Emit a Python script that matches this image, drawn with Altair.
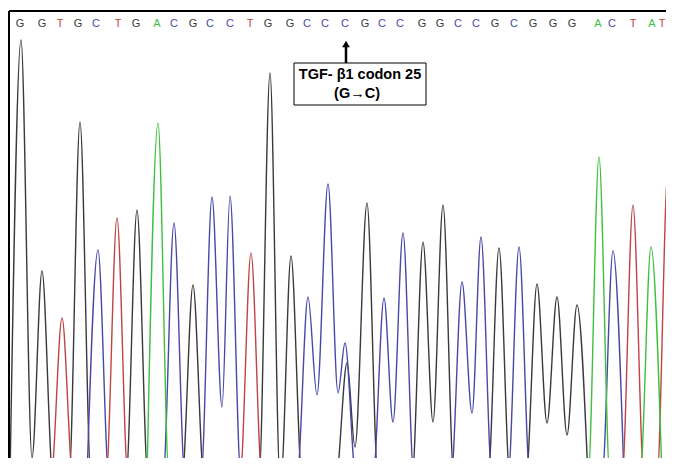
import altair as alt
import pandas as pd

# ---- base calls printed along the top (scan position of each call) ----
bases = list("GGTGCTGACGCCTGGCCCGCCGGCCGCGGGACTAT")
base_pos = [20, 42, 60, 78, 96, 118, 136, 157, 174, 193, 210, 230, 250, 268, 290,
            307, 325, 345, 365, 382, 400, 422, 440, 458, 476, 495, 514, 533, 553,
            572, 598, 612, 633, 652, 670]

# ---- peak apexes per dye: scan position and signal height ----
g_x = [21, 42, 80, 137, 193, 270, 291, 347, 367, 423, 443, 499, 537, 557, 577]
g_h = [426, 195, 344, 256, 181, 393, 210, 103, 263, 224, 261, 218, 182, 169, 161]
c_x = [98, 174, 212, 230, 308, 328, 345, 384, 403, 462, 481, 519, 613]
c_h = [216, 243, 269, 270, 169, 282, 123, 168, 233, 184, 229, 219, 215]
t_x = [0, 62, 117, 251, 633, 668]
t_h = [150, 148, 248, 213, 261, 296]
a_x = [158, 599, 651]
a_h = [343, 309, 219]

# ---- partial valleys between neighbouring peaks of the same dye ----
g_valleys = {(21, 42): (32, 8), (347, 367): (355, 19), (423, 443): (433, 44),
             (537, 557): (547, 43), (557, 577): (567, 31)}
c_valleys = {(212, 230): (222, 59), (308, 328): (317, 71), (328, 345): (338, 73),
             (384, 403): (393, 44), (462, 481): (472, 53)}

FOOT = 11      # half base width of a peak (scan units)
BASE = -12     # baseline just below the visible window


def trace(xs, hs, valleys, dye):
    rows = []
    for i, (x, h) in enumerate(zip(xs, hs)):
        prev = xs[i - 1] if i > 0 else None
        if prev is not None and (prev, x) in valleys:
            vx, vh = valleys[(prev, x)]
            rows.append((vx, vh))
        else:
            rows.append((x - FOOT, BASE))
        rows.append((x, h))
        nxt = xs[i + 1] if i + 1 < len(xs) else None
        if not (nxt is not None and (x, nxt) in valleys):
            rows.append((x + FOOT, BASE))
    return [{"scan": a, "signal": b, "dye": dye} for a, b in rows]


rows = (trace(g_x, g_h, g_valleys, "G") + trace(c_x, c_h, c_valleys, "C")
        + trace(t_x, t_h, {}, "T") + trace(a_x, a_h, {}, "A"))
traces = pd.DataFrame(rows)
calls = pd.DataFrame({"base": bases, "scan": base_pos})
calls_main = calls.iloc[:-1]
calls_last = calls.iloc[-1:]

dyes = ["A", "C", "G", "T"]
trace_colors = ["#3fbf3f", "#4848a8", "#3a3a3a", "#c04444"]
letter_colors = ["#4cc04c", "#5a5ab4", "#555555", "#c04a4a"]

W, H = 657, 447
xsc = alt.Scale(domain=[9, 666], nice=False, zero=False)
ysc = alt.Scale(domain=[8, 455], nice=False, zero=False)

lines = alt.Chart(traces).mark_line(strokeWidth=1.4, interpolate="monotone", clip=True).encode(
    x=alt.X("scan:Q", scale=xsc, axis=None),
    y=alt.Y("signal:Q", scale=ysc, axis=None),
    color=alt.Color("dye:N", scale=alt.Scale(domain=dyes, range=trace_colors), legend=None),
    detail="dye:N",
)

letter_enc = dict(
    x=alt.X("scan:Q", scale=xsc, axis=None),
    y=alt.value(13),
    text="base:N",
    color=alt.Color("base:N", scale=alt.Scale(domain=dyes, range=letter_colors), legend=None),
)
letters = alt.Chart(calls_main).mark_text(fontSize=11, font="Liberation Sans",
                                          baseline="middle").encode(**letter_enc)
# the last call sits at the very right edge of the window: nudge it inside
letter_last = alt.Chart(calls_last).mark_text(fontSize=11, font="Liberation Sans",
                                              baseline="middle", dx=-8).encode(**letter_enc)

# frame: only top and left edges are visible in the original
frame_top = alt.Chart(calls).mark_rule(color="black", strokeWidth=1).encode(
    x=alt.value(0), x2=alt.value(W), y=alt.value(0))
frame_left = alt.Chart(calls).mark_rule(color="black", strokeWidth=1).encode(
    x=alt.value(0), y=alt.value(0), y2=alt.value(H))

site = pd.DataFrame({"scan": [346]})
arrow_line = alt.Chart(site).mark_rule(color="black", strokeWidth=2.5).encode(
    x=alt.X("scan:Q", scale=xsc, axis=None), y=alt.value(35), y2=alt.value(52))
arrow_head = alt.Chart(site).mark_point(shape="triangle-up", filled=True, color="black",
                                        size=60, opacity=1).encode(
    x=alt.X("scan:Q", scale=xsc, axis=None), y=alt.value(33))

box = alt.Chart(site).mark_rect(fill="white", stroke="black", strokeWidth=1).encode(
    x=alt.value(285), x2=alt.value(417), y=alt.value(52), y2=alt.value(94))
label1 = alt.Chart(site).mark_text(text="TGF- β1 codon 25", fontSize=14.5, fontWeight="bold",
                                   font="Liberation Sans", baseline="middle").encode(
    x=alt.value(351), y=alt.value(64))
label2 = alt.Chart(site).mark_text(text="(G→C)", fontSize=14.5, fontWeight="bold",
                                   font="Liberation Sans", baseline="middle").encode(
    x=alt.value(348), y=alt.value(83))

chart = alt.layer(lines, letters, letter_last, frame_top, frame_left, arrow_line, arrow_head,
                  box, label1, label2).properties(
    width=W, height=H,
    autosize=alt.AutoSizeParams(type="none"),
    padding={"left": 1, "top": 3, "right": 0, "bottom": 0},
    background="white",
).configure_view(stroke=None)

chart.save("out.html", embed_options={"renderer": "svg", "actions": False})
